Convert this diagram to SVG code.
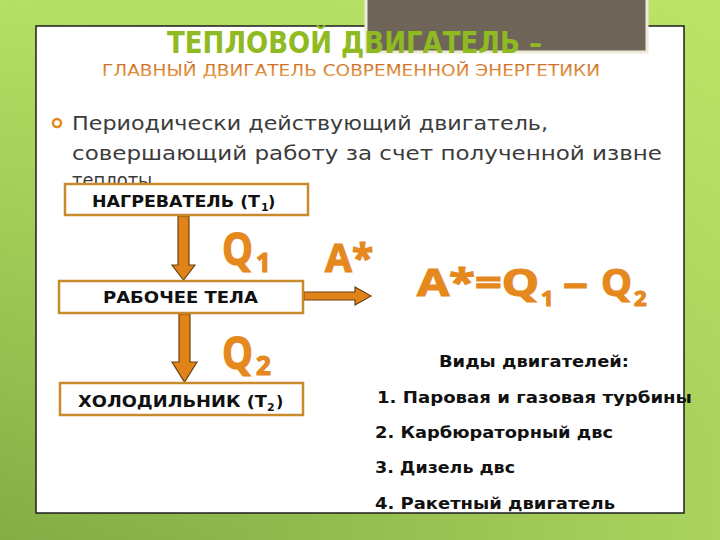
<svg xmlns="http://www.w3.org/2000/svg" width="720" height="540" viewBox="0 0 720 540">
<defs>
<linearGradient id="bg" x1="0" y1="0" x2="0.3" y2="1">
<stop offset="0" stop-color="#b4e064"/>
<stop offset="0.5" stop-color="#9cc653"/>
<stop offset="1" stop-color="#7fa843"/>
</linearGradient>
<linearGradient id="bgr" x1="0" y1="0" x2="1" y2="0">
<stop offset="0" stop-color="#c8f070" stop-opacity="0"/>
<stop offset="1" stop-color="#c8f070" stop-opacity="0.6"/>
</linearGradient>
<linearGradient id="sub" x1="0" y1="0" x2="0" y2="1">
<stop offset="0" stop-color="#c8651c"/>
<stop offset="1" stop-color="#f0a850"/>
</linearGradient>
</defs>
<style>
.box{fill:#ffffff;stroke:#c98a2b;stroke-width:2.5}
.bt{font-family:"DejaVu Sans","Liberation Sans",sans-serif;font-weight:bold;font-size:16px;fill:#111111}
.bs{font-family:"DejaVu Sans","Liberation Sans",sans-serif;font-weight:bold;font-size:11px;fill:#111111}
.big{font-family:"Open Sans","DejaVu Sans",sans-serif;font-weight:bold;fill:#e5891f;stroke:#e5891f;stroke-width:1.2}
.body{font-family:"DejaVu Sans","Liberation Sans",sans-serif;font-size:20px;fill:#3c3c3c}
.li{font-family:"DejaVu Sans","Liberation Sans",sans-serif;font-weight:bold;font-size:16px;fill:#111111}
.arr{fill:#e0841a;stroke:#6e4210;stroke-width:1.2;stroke-linejoin:miter}
</style>
<rect x="0" y="0" width="720" height="540" fill="url(#bg)"/>
<rect x="0" y="0" width="720" height="540" fill="url(#bgr)"/>
<rect x="36" y="26" width="648" height="487" fill="#ffffff" stroke="#1e1e1e" stroke-width="1.5"/>
<rect x="366" y="-5" width="281" height="57" fill="#6e6558" stroke="#eeecd8" stroke-width="3"/>
<g id="title">
<text x="167" y="53" font-family="DejaVu Sans, Liberation Sans, sans-serif" font-weight="bold" font-size="31" fill="#8fba22" textLength="375" lengthAdjust="spacingAndGlyphs">ТЕПЛОВОЙ ДВИГАТЕЛЬ –</text>
<text x="102" y="76" font-family="DejaVu Sans, Liberation Sans, sans-serif" font-size="15" fill="url(#sub)" textLength="498" lengthAdjust="spacingAndGlyphs">ГЛАВНЫЙ ДВИГАТЕЛЬ СОВРЕМЕННОЙ ЭНЕРГЕТИКИ</text>
</g>
<g id="definition">
<circle cx="57" cy="123" r="4" fill="none" stroke="#e08a1e" stroke-width="2.5"/>
<text class="body" x="72" y="130" textLength="476" lengthAdjust="spacingAndGlyphs">Периодически действующий двигатель,</text>
<text class="body" x="72" y="160" textLength="590" lengthAdjust="spacingAndGlyphs">совершающий работу за счет полученной извне</text>
<text class="body" x="72" y="187" textLength="86" lengthAdjust="spacingAndGlyphs">теплоты.</text>
</g>
<g id="connectors">
<path class="arr" d="M178,216 H189 V265 H195 L183.5,280 L172,265 H178 Z"/>
<path class="arr" d="M179,314 H190 V362 H197 L184.5,382 L172,362 H179 Z"/>
<path class="arr" d="M304,292 H355 V287 L371,296 L355,305 V300 H304 Z"/>
</g>
<g id="heater">
<rect class="box" x="65" y="184" width="243" height="31"/>
<text class="bt" x="92" y="207" textLength="168" lengthAdjust="spacingAndGlyphs">НАГРЕВАТЕЛЬ (Т</text>
<text class="bs" x="261" y="211">1</text>
<text class="bt" x="268" y="207">)</text>
</g>
<g id="working-body">
<rect class="box" x="59" y="281" width="244" height="32"/>
<text class="bt" x="103" y="303" textLength="155" lengthAdjust="spacingAndGlyphs">РАБОЧЕЕ ТЕЛА</text>
</g>
<g id="cooler">
<rect class="box" x="60" y="383" width="243" height="32"/>
<text class="bt" x="78" y="407" textLength="189" lengthAdjust="spacingAndGlyphs">ХОЛОДИЛЬНИК (Т</text>
<text class="bs" x="267" y="411">2</text>
<text class="bt" x="276" y="407">)</text>
</g>
<g id="q1">
<text class="big" x="222" y="265" font-size="44" textLength="31" lengthAdjust="spacingAndGlyphs">Q</text>
<text class="big" x="256" y="272" font-size="26">1</text>
</g>
<g id="q2">
<text class="big" x="222" y="369" font-size="44" textLength="31" lengthAdjust="spacingAndGlyphs">Q</text>
<text class="big" x="256" y="375" font-size="26">2</text>
</g>
<g id="work">
<text class="big" x="325" y="272" font-size="39">A*</text>
</g>
<g id="formula">
<text class="big" x="417" y="296" font-size="37" textLength="122" lengthAdjust="spacingAndGlyphs">A*=Q</text>
<text class="big" x="541" y="306" font-size="22">1</text>
<text class="big" x="563" y="296" font-size="37" textLength="25" lengthAdjust="spacingAndGlyphs">–</text>
<text class="big" x="601" y="296" font-size="37" textLength="31" lengthAdjust="spacingAndGlyphs">Q</text>
<text class="big" x="634" y="306" font-size="22">2</text>
</g>
<g id="types">
<text class="li" x="439" y="367" textLength="190" lengthAdjust="spacingAndGlyphs">Виды двигателей:</text>
<text class="li" x="377" y="403" textLength="315" lengthAdjust="spacingAndGlyphs">1. Паровая и газовая турбины</text>
<text class="li" x="375" y="438" textLength="238" lengthAdjust="spacingAndGlyphs">2. Карбюраторный двс</text>
<text class="li" x="375" y="473" textLength="140" lengthAdjust="spacingAndGlyphs">3. Дизель двс</text>
<text class="li" x="375" y="509" textLength="240" lengthAdjust="spacingAndGlyphs">4. Ракетный двигатель</text>
</g>
</svg>
